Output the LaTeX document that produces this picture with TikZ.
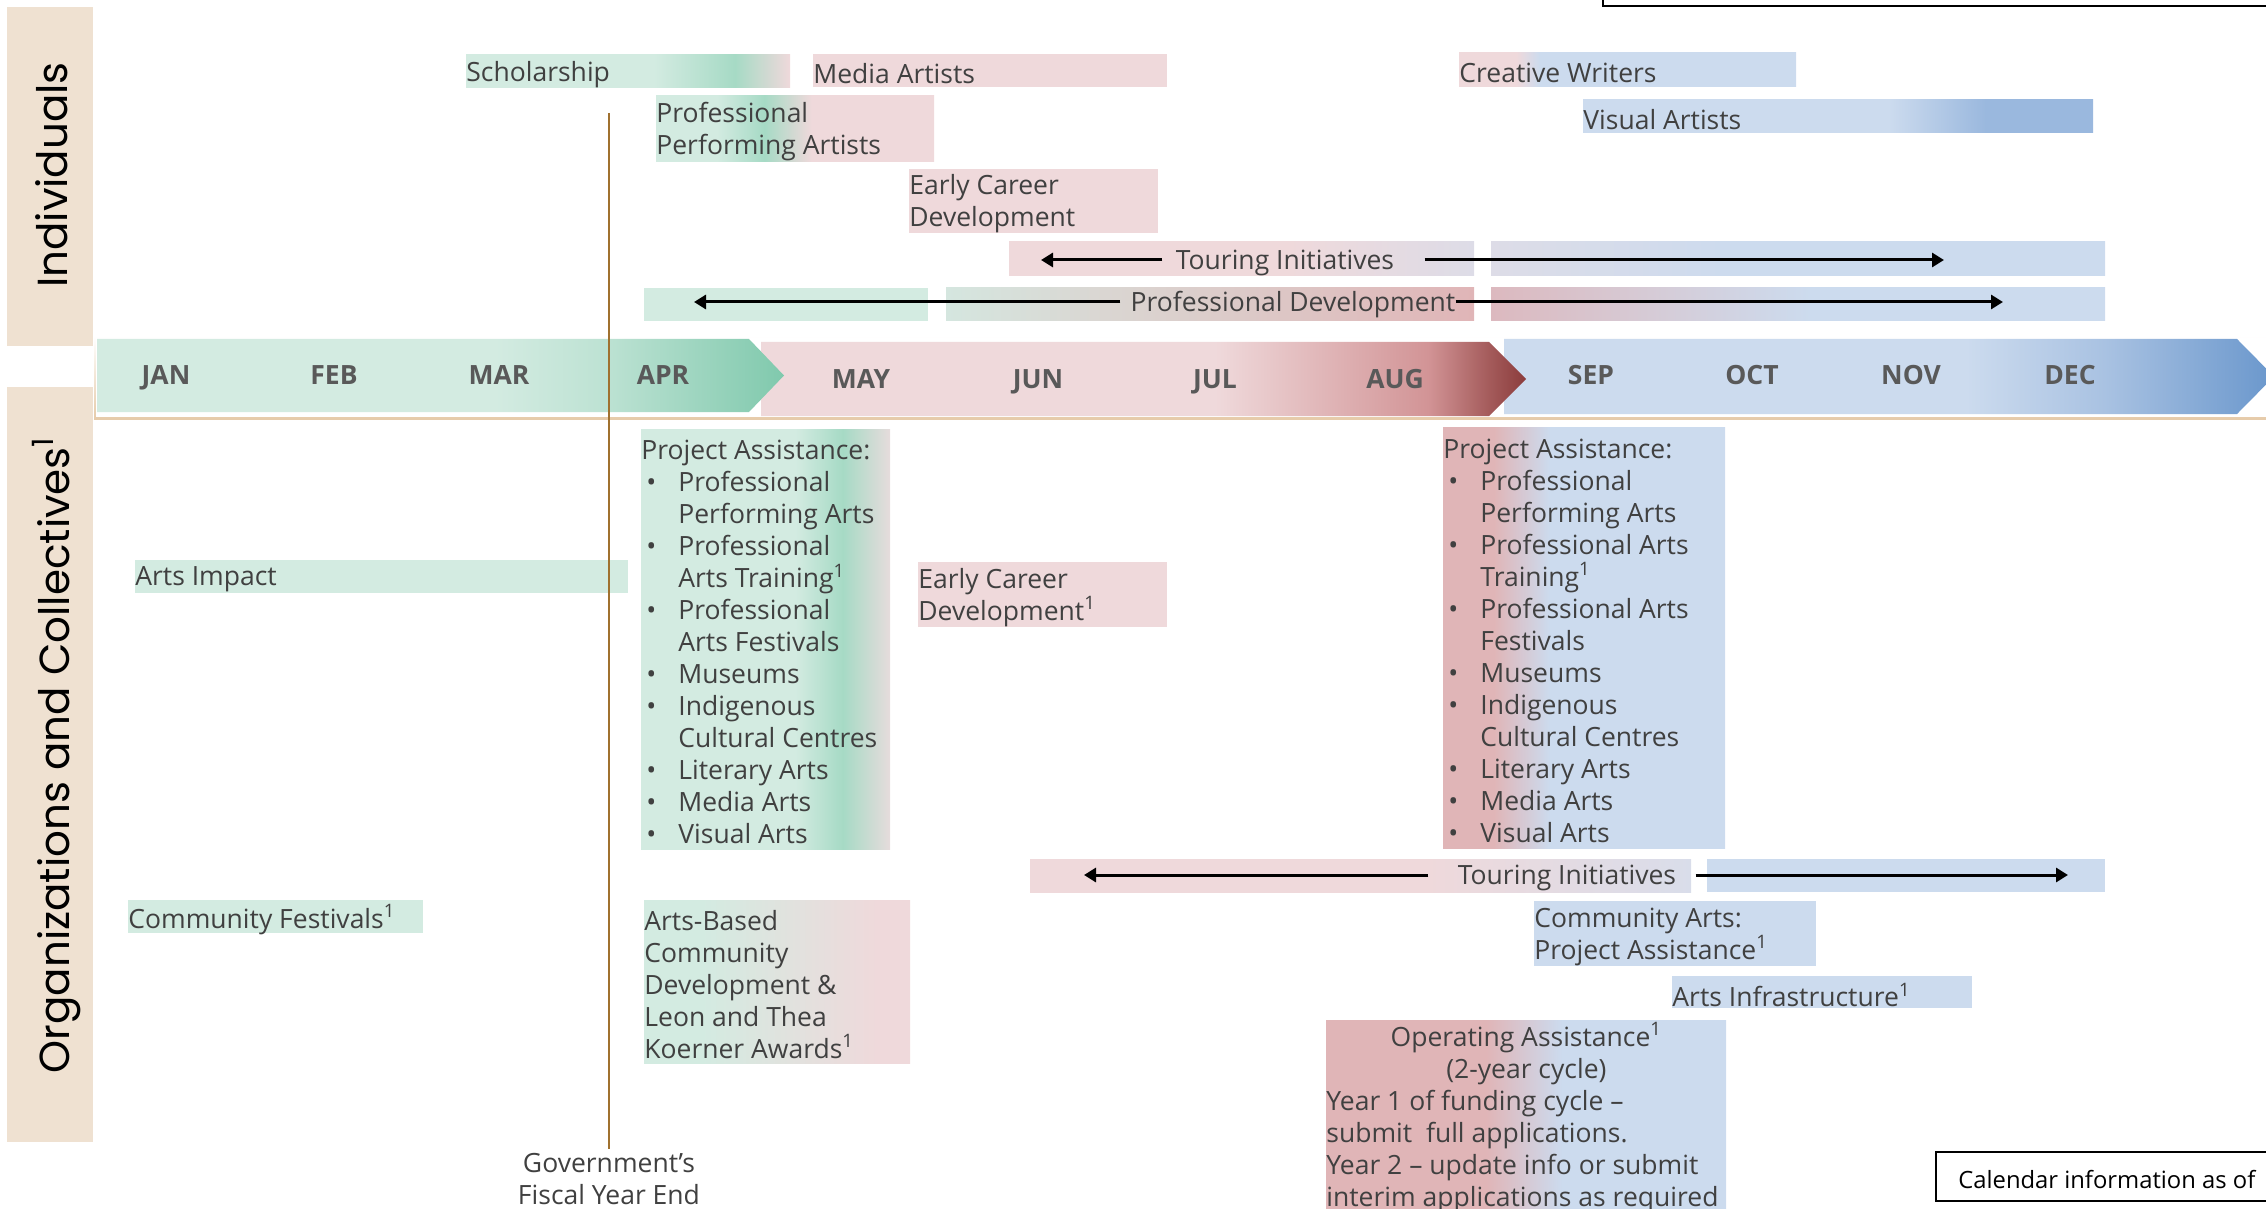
\documentclass[tikz,border=0pt]{standalone}
\usepackage{fontspec}
\setmainfont{Open Sans}
\newfontfamily\bandfont{Poppins}
\usetikzlibrary{arrows.meta}
\definecolor{grnL}{HTML}{D3EBE1}
\definecolor{grnM}{HTML}{A6DAC5}
\definecolor{grnT}{HTML}{BDE2D3}
\definecolor{grnD}{HTML}{80C9AD}
\definecolor{pnkL}{HTML}{EFD9DB}
\definecolor{pnkM}{HTML}{E0B5B7}
\definecolor{pnkD}{HTML}{D29496}
\definecolor{pnkR}{HTML}{A55C5C}
\definecolor{wine}{HTML}{8B3C3C}
\definecolor{bluL}{HTML}{CCDBEE}
\definecolor{bluM}{HTML}{9AB8DE}
\definecolor{bluT}{HTML}{A9C2E2}
\definecolor{bluD}{HTML}{6A97CC}
\definecolor{sand}{HTML}{EFE1D1}
\definecolor{sandline}{HTML}{E6CBAA}
\definecolor{inkgrey}{HTML}{404040}
\definecolor{monthgrey}{HTML}{595959}
\definecolor{fiscal}{HTML}{A0712F}
\definecolor{sage}{HTML}{D5E6DF}
\definecolor{ash}{HTML}{DAD6D2}
\definecolor{rosy}{HTML}{DCB9BF}
\definecolor{mauve}{HTML}{D6CBD6}
\definecolor{lilac}{HTML}{DDDCE7}
\definecolor{haze}{HTML}{D9DDEA}
\definecolor{blush}{HTML}{E6DCDC}

\pgfdeclarehorizontalshading{scholshade}{100bp}{color(0bp)=(grnL); color(54bp)=(grnL); color(66.5bp)=(grnM); color(75bp)=(pnkL); color(100bp)=(pnkL)}
\pgfdeclarehorizontalshading{ppashade}{100bp}{color(0bp)=(grnL); color(36bp)=(grnL); color(44.5bp)=(grnM); color(53bp)=(pnkL); color(100bp)=(pnkL)}
\pgfdeclarehorizontalshading{pdmidshade}{100bp}{color(0bp)=(sage); color(25bp)=(sage); color(40bp)=(ash); color(75bp)=(pnkM); color(100bp)=(pnkM)}
\pgfdeclarehorizontalshading{pdrightshade}{100bp}{color(0bp)=(rosy); color(25bp)=(rosy); color(38bp)=(mauve); color(51bp)=(bluL); color(100bp)=(bluL)}
\pgfdeclarehorizontalshading{tourleftshade}{100bp}{color(0bp)=(pnkL); color(55bp)=(pnkL); color(75bp)=(lilac); color(100bp)=(lilac)}
\pgfdeclarehorizontalshading{tourrightshade}{100bp}{color(0bp)=(lilac); color(25bp)=(lilac); color(45bp)=(bluL); color(100bp)=(bluL)}
\pgfdeclarehorizontalshading{cwshade}{100bp}{color(0bp)=(pnkL); color(33.5bp)=(pnkL); color(37bp)=(bluL); color(100bp)=(bluL)}
\pgfdeclarehorizontalshading{vashade}{100bp}{color(0bp)=(bluL); color(55bp)=(bluL); color(64.5bp)=(bluM); color(100bp)=(bluM)}
\pgfdeclarehorizontalshading{paleftshade}{100bp}{color(0bp)=(grnL); color(56bp)=(grnL); color(65.5bp)=(grnM); color(75bp)=(blush); color(100bp)=(blush)}
\pgfdeclarehorizontalshading{parightshade}{100bp}{color(0bp)=(pnkM); color(34bp)=(pnkM); color(44bp)=(bluL); color(100bp)=(bluL)}
\pgfdeclarehorizontalshading{tourorgshade}{100bp}{color(0bp)=(pnkL); color(55bp)=(pnkL); color(75bp)=(haze); color(100bp)=(haze)}
\pgfdeclarehorizontalshading{abcdshade}{100bp}{color(0bp)=(grnL); color(35.7bp)=(grnL); color(69bp)=(pnkL); color(100bp)=(pnkL)}
\pgfdeclarehorizontalshading{opasshade}{100bp}{color(0bp)=(pnkM); color(45bp)=(pnkM); color(54.5bp)=(bluL); color(100bp)=(bluL)}
\pgfdeclarehorizontalshading{mongrn}{100bp}{color(0bp)=(grnL); color(54bp)=(grnL); color(62bp)=(grnT); color(75bp)=(grnD); color(100bp)=(grnD)}
\pgfdeclarehorizontalshading{monpnk}{100bp}{color(0bp)=(pnkL); color(54.7bp)=(pnkL); color(68.6bp)=(pnkD); color(72.5bp)=(pnkR); color(75bp)=(wine); color(100bp)=(wine)}
\pgfdeclarehorizontalshading{monblu}{100bp}{color(0bp)=(bluL); color(55bp)=(bluL); color(64bp)=(bluT); color(75bp)=(bluD); color(100bp)=(bluD)}

\newcommand{\pabul}{\makebox[18.5pt][l]{\hspace*{2.5pt}\textbullet}}
\newcommand{\paskip}{\hspace*{18.5pt}}

\begin{document}
\begin{tikzpicture}[x=0.5pt,y=-0.5pt,
    bar/.style={inner sep=0pt,outer sep=0pt,anchor=north west},
    txt/.style={inner sep=0pt,anchor=west,align=left,text=inkgrey,yshift=-1.5pt,font=\fontsize{13.25}{16}\selectfont},
    mon/.style={inner sep=0pt,anchor=base,text=monthgrey,font=\fontsize{13.25}{16}\selectfont\bfseries},
    side/.style={fill=sand,inner sep=0pt,anchor=north west,minimum width=43pt},
    sidetxt/.style={rotate=90,anchor=base,inner sep=0pt,font=\bandfont\fontsize{21}{24}\selectfont,text=black},
    arr/.style={-{Triangle[length=6pt,width=7pt]},line width=1.5pt},
    fyline/.style={draw=fiscal,line width=0.6pt},
    note/.style={draw=black,line width=1pt}
  ]
  \useasboundingbox (0,0) rectangle (2266,1209);
  \clip (0,0) rectangle (2266,1209);

  % side bands
  \node[side,minimum height=169.5pt] (indBand) at (7,7) {};
  \node[side,minimum height=377.5pt] (orgBand) at (7,387) {};
  \node[sidetxt] (indLbl) at (68,175) {Individuals};
  \node[sidetxt] (orgLbl) at (69,755) {Organizations and Collectives\textsuperscript{1}};

  % month bar
  \shade[top color=white,bottom color=sandline] (94,336) rectangle (2270,419);
  \fill[white] (96,338) rectangle (2270,416.5);
  \shade[shading=monblu] (1504,339) -- (2237,339) -- (2274,376.5) -- (2237,414) -- (1504,414) -- cycle;
  \shade[shading=monpnk] (761,342) -- (1489,342) -- (1526,379) -- (1489,416) -- (761,416) -- cycle;
  \shade[shading=mongrn] (97,339) -- (749,339) -- (784,375.5) -- (749,412) -- (97,412) -- cycle;
  \node[mon] (jan) at (166,385) {JAN};
  \node[mon] (feb) at (334,385) {FEB};
  \node[mon] (mar) at (499,385) {MAR};
  \node[mon] (apr) at (663,385) {APR};
  \node[mon] (may) at (861,388) {MAY};
  \node[mon] (jun) at (1038,388) {JUN};
  \node[mon] (jul) at (1215,388) {JUL};
  \node[mon] (aug) at (1395,388) {AUG};
  \node[mon] (sep) at (1591,385) {SEP};
  \node[mon] (oct) at (1752,385) {OCT};
  \node[mon] (nov) at (1911,385) {NOV};
  \node[mon] (dec) at (2070,385) {DEC};

  % individuals
  \node[bar,shade,shading=scholshade,minimum width=162pt,minimum height=16.5pt] (schol) at (466,55) {};
  \node[bar,fill=pnkL,minimum width=177pt,minimum height=16.5pt] (media) at (813,54) {};
  \node[bar,shade,shading=ppashade,minimum width=139pt,minimum height=33pt] (ppa) at (656,96) {};
  \node[bar,fill=pnkL,minimum width=124.5pt,minimum height=32pt] (ecdInd) at (909,169) {};
  \node[bar,shade,shading=tourleftshade,minimum width=232.5pt,minimum height=17pt] (tiIndA) at (1009,242) {};
  \node[bar,shade,shading=tourrightshade,minimum width=307pt,minimum height=17pt] (tiIndB) at (1491,242) {};
  \node[bar,fill=grnL,minimum width=142pt,minimum height=16.5pt] (pdA) at (644,288) {};
  \node[bar,shade,shading=pdmidshade,minimum width=264pt,minimum height=16.5pt] (pdB) at (946,288) {};
  \node[bar,shade,shading=pdrightshade,minimum width=307pt,minimum height=16.5pt] (pdC) at (1491,288) {};
  \node[bar,shade,shading=cwshade,minimum width=168.5pt,minimum height=17pt] (cw) at (1459,53) {};
  \node[bar,shade,shading=vashade,minimum width=255pt,minimum height=16.5pt] (va) at (1583,100) {};

  \node[txt] (scholT) at (schol.west) {Scholarship};
  \node[txt] (mediaT) at (media.west) {Media Artists};
  \node[txt] (ppaT) at (ppa.west) {Professional\\Performing Artists};
  \node[txt] (ecdIndT) at (ecdInd.west) {Early Career\\Development};
  \node[txt] (cwT) at (cw.west) {Creative Writers};
  \node[txt] (vaT) at (va.west) {Visual Artists};
  \node[txt,anchor=center] (tiIndT) at (1285,260) {Touring Initiatives};
  \node[txt,anchor=center] (pdT) at (1293,302) {Professional Development};
  \coordinate (tiIndL) at (1041,260);
  \coordinate (tiIndR) at (1944,260);
  \coordinate (pdL) at (694,302);
  \coordinate (pdR) at (2003,302);
  \draw[arr] ([xshift=-6.5pt,yshift=1.5pt]tiIndT.west) -- (tiIndL);
  \draw[arr] ([xshift=15pt,yshift=1.5pt]tiIndT.east) -- (tiIndR);
  \draw[arr] ([xshift=-5pt,yshift=1.5pt]pdT.west) -- (pdL);
  \draw[arr] ([yshift=1.5pt]pdT.east) -- (pdR);

  % organizations and collectives
  \node[bar,fill=grnL,minimum width=246.5pt,minimum height=16.5pt] (impact) at (135,560) {};
  \node[bar,shade,shading=paleftshade,minimum width=124.5pt,minimum height=210pt] (paA) at (641,429) {};
  \node[bar,fill=pnkL,minimum width=124.5pt,minimum height=32.5pt] (ecdOrg) at (918,562) {};
  \node[bar,shade,shading=parightshade,minimum width=141pt,minimum height=210.5pt] (paB) at (1443,427) {};
  \node[bar,shade,shading=tourorgshade,minimum width=330.5pt,minimum height=16.5pt] (tiOrgA) at (1030,859) {};
  \node[bar,fill=bluL,minimum width=199pt,minimum height=16.5pt] (tiOrgB) at (1707,859) {};
  \node[bar,fill=grnL,minimum width=147.5pt,minimum height=16.5pt] (cfest) at (128,900) {};
  \node[bar,shade,shading=abcdshade,minimum width=133pt,minimum height=81.5pt] (abcd) at (644,900) {};
  \node[bar,fill=bluL,minimum width=141pt,minimum height=32.5pt] (capa) at (1534,901) {};
  \node[bar,fill=bluL,minimum width=150pt,minimum height=16pt] (infra) at (1672,976) {};
  \node[bar,shade,shading=opasshade,minimum width=200pt,minimum height=94.5pt] (opas) at (1326,1020) {};

  \node[txt] (impactT) at (impact.west) {Arts Impact};
  \node[txt] (paAT) at (paA.west) {Project Assistance:\\
    \pabul Professional\\ \paskip Performing Arts\\
    \pabul Professional\\ \paskip Arts Training\textsuperscript{1}\\
    \pabul Professional\\ \paskip Arts Festivals\\
    \pabul Museums\\
    \pabul Indigenous\\ \paskip Cultural Centres\\
    \pabul Literary Arts\\
    \pabul Media Arts\\
    \pabul Visual Arts};
  \node[txt] (ecdOrgT) at (ecdOrg.west) {Early Career\\Development\textsuperscript{1}};
  \node[txt] (paBT) at (paB.west) {Project Assistance:\\
    \pabul Professional\\ \paskip Performing Arts\\
    \pabul Professional Arts\\ \paskip Training\textsuperscript{1}\\
    \pabul Professional Arts\\ \paskip Festivals\\
    \pabul Museums\\
    \pabul Indigenous\\ \paskip Cultural Centres\\
    \pabul Literary Arts\\
    \pabul Media Arts\\
    \pabul Visual Arts};
  \node[txt] (cfestT) at (cfest.west) {Community Festivals\textsuperscript{1}};
  \node[txt] (abcdT) at (abcd.west) {Arts-Based\\Community\\Development \&\\Leon and Thea\\Koerner Awards\textsuperscript{1}};
  \node[txt] (capaT) at (capa.west) {Community Arts:\\Project Assistance\textsuperscript{1}};
  \node[txt] (infraT) at (infra.west) {Arts Infrastructure\textsuperscript{1}};
  \node[txt] (opasT) at (opas.west) {\makebox[200pt]{Operating Assistance\textsuperscript{1}}\\
    \makebox[200pt]{(2-year cycle)}\\
    Year 1 of funding cycle --\\
    submit\ \ full applications.\\
    Year 2 -- update info or submit\\
    interim applications as required};
  \node[txt,anchor=center] (tiOrgT) at (1567,875) {Touring Initiatives};
  \coordinate (tiOrgL) at (1084,875);
  \coordinate (tiOrgR) at (2068,875);
  \draw[arr] ([xshift=-14.5pt,yshift=1.5pt]tiOrgT.west) -- (tiOrgL);
  \draw[arr] ([xshift=9.5pt,yshift=1.5pt]tiOrgT.east) -- (tiOrgR);

  % fiscal year end
  \coordinate (fyTop) at (609,113);
  \node[txt,anchor=center,align=center] (fyEnd) at (609,1176) {Government's\\Fiscal Year End};
  \draw[fyline] (fyTop) -- ([yshift=2pt]fyEnd.north);

  % notes
  \draw[note] (1603,-20) rectangle (2300,6);
  \draw[note] (1936,1152) rectangle (2300,1201);
  \node[txt,text=black,font=\fontsize{11.9}{14}\selectfont] (calT) at (1958,1177) {Calendar information as of};
\end{tikzpicture}
\end{document}
